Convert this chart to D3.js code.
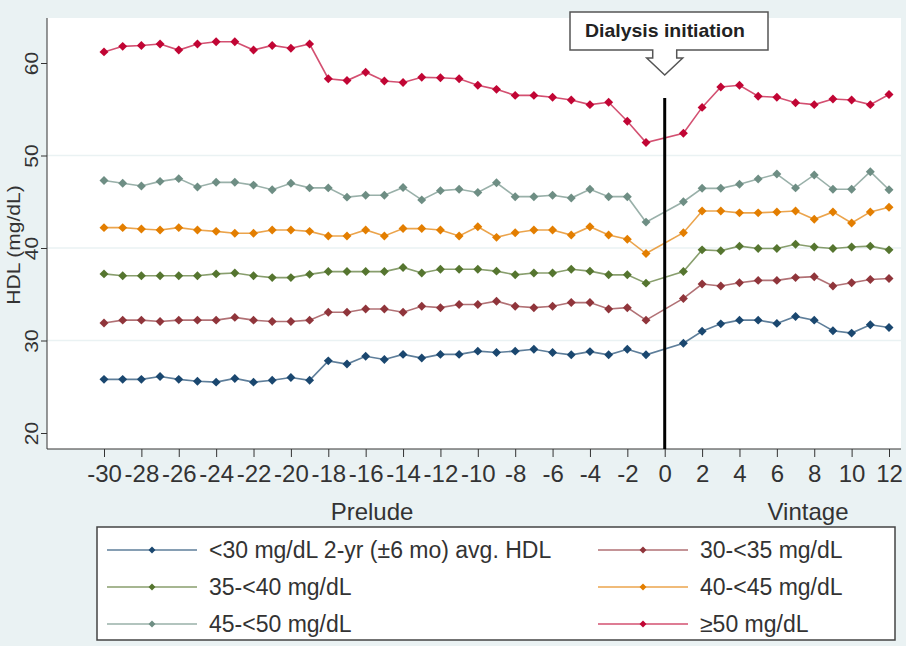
<!DOCTYPE html>
<html>
<head>
<meta charset="utf-8">
<script src="https://cdn.jsdelivr.net/npm/d3@7"></script>
<style>
  body { margin: 0; background: #eaf2f3; }
  svg { display: block; font-family: "Liberation Sans", Arial, sans-serif; }
</style>
</head>
<body>
<svg id="chart" width="906" height="646"></svg>
<script>
'use strict';
// months relative to dialysis start (no point at month 0)
var months = [-30,-29,-28,-27,-26,-25,-24,-23,-22,-21,-20,-19,-18,-17,-16,-15,-14,-13,-12,-11,
              -10,-9,-8,-7,-6,-5,-4,-3,-2,-1,1,2,3,4,5,6,7,8,9,10,11,12];
var xTicks = [-30,-28,-26,-24,-22,-20,-18,-16,-14,-12,-10,-8,-6,-4,-2,0,2,4,6,8,10,12];
var yTicks = [20, 30, 40, 50, 60];

var hdlLt30 = [25.8,25.8,25.8,26.1,25.8,25.6,25.5,25.9,25.5,25.7,26.0,25.7,
               27.8,27.45,28.3,27.95,28.5,28.1,28.5,28.5,28.85,28.7,28.85,29.05,28.7,28.45,28.8,28.45,29.05,28.45,
               29.7,31.0,31.8,32.2,32.2,31.85,32.6,32.2,31.05,30.8,31.7,31.4];
var hdl30to35 = [31.9,32.2,32.2,32.05,32.2,32.2,32.2,32.5,32.2,32.05,32.05,32.2,
                 33.05,33.05,33.4,33.4,33.05,33.7,33.55,33.9,33.9,34.25,33.7,33.55,33.7,34.1,34.1,33.4,33.55,32.2,
                 34.55,36.1,35.9,36.25,36.5,36.5,36.8,36.9,35.9,36.25,36.6,36.7];
var hdl35to40 = [37.2,37.0,37.0,37.0,37.0,37.0,37.2,37.3,37.0,36.8,36.8,37.15,
                 37.45,37.45,37.45,37.45,37.9,37.3,37.7,37.7,37.7,37.5,37.1,37.3,37.3,37.7,37.5,37.1,37.1,36.2,
                 37.45,39.8,39.7,40.2,39.95,39.95,40.4,40.1,39.95,40.1,40.2,39.8];
var hdl40to45 = [42.2,42.2,42.05,41.95,42.2,41.95,41.8,41.6,41.6,41.95,41.95,41.8,
                 41.3,41.3,41.95,41.3,42.1,42.1,41.95,41.3,42.3,41.15,41.65,41.95,41.95,41.4,42.3,41.4,40.95,39.4,
                 41.65,44.0,44.0,43.8,43.8,43.9,44.0,43.1,43.9,42.7,43.9,44.4];
var hdl45to50 = [47.3,47.0,46.7,47.2,47.5,46.6,47.1,47.1,46.8,46.3,47.0,46.5,
                 46.5,45.5,45.7,45.7,46.55,45.2,46.2,46.35,46.0,47.05,45.55,45.55,45.7,45.4,46.35,45.55,45.55,42.8,
                 45.0,46.45,46.45,46.9,47.45,48.0,46.5,47.9,46.35,46.35,48.25,46.3];
var hdlGe50 = [61.2,61.8,61.9,62.05,61.4,62.05,62.3,62.3,61.4,61.9,61.6,62.05,
               58.3,58.1,59.0,58.05,57.9,58.45,58.4,58.3,57.6,57.15,56.5,56.5,56.3,56.0,55.5,55.75,53.7,51.4,
               52.4,55.2,57.4,57.6,56.4,56.3,55.7,55.5,56.1,56.0,55.5,56.6];

var seriesNames = ['<30 mg/dL 2-yr (\u00b16 mo) avg. HDL', '30-<35 mg/dL', '35-<40 mg/dL',
                   '40-<45 mg/dL', '45-<50 mg/dL', '\u226550 mg/dL'];
var seriesValues = [hdlLt30, hdl30to35, hdl35to40, hdl40to45, hdl45to50, hdlGe50];
var seriesColors = ['#1a476f', '#90353b', '#55752f', '#e37e00', '#6e8e84', '#c10534'];

var svg = d3.select('#chart');
var plotLeft = 47, plotRight = 901, plotTop = 18, plotBottom = 449;

var x = d3.scaleLinear().domain([-30, 12]).range([104, 889]);
var y = d3.scaleLinear().domain([20, 60]).range([433, 63]);

// plot region
svg.append('rect')
    .attr('x', plotLeft).attr('y', plotTop)
    .attr('width', plotRight - plotLeft).attr('height', plotBottom - plotTop)
    .attr('fill', '#ffffff');

// grid lines
svg.selectAll('.grid')
    .data(yTicks.slice(1, 4))
    .enter()
    .append('line')
    .attr('class', 'grid')
    .attr('x1', plotLeft).attr('x2', plotRight)
    .attr('y1', function(d){return y(d);}).attr('y2', function(d){return y(d);})
    .attr('stroke', '#eaf2f3')
    .attr('stroke-width', 1.5);

// axes (plain hyphen for negatives, like the original)
var plain = function(d){return String(d);};

var yAxis = svg.append('g')
    .attr('transform', 'translate(' + plotLeft + ',0)')
    .call(d3.axisLeft(y).tickValues(yTicks).tickSize(6).tickFormat(plain));
yAxis.select('.domain').attr('d', 'M0,' + plotTop + 'V' + plotBottom).attr('stroke', '#333');
yAxis.selectAll('.tick line').attr('stroke', '#333');
yAxis.selectAll('.tick text')
    .attr('font-size', 21)
    .attr('fill', '#333')
    .attr('text-anchor', 'middle')
    .attr('transform', 'translate(-15,0) scale(0.85,1) rotate(-90)')
    .attr('x', 0).attr('dy', '0.35em');

var xAxis = svg.append('g')
    .attr('transform', 'translate(0,' + plotBottom + ')')
    .call(d3.axisBottom(x).tickValues(xTicks).tickSize(8).tickPadding(8).tickFormat(plain));
xAxis.select('.domain').attr('d', 'M' + plotLeft + ',0H' + plotRight).attr('stroke', '#333');
xAxis.selectAll('.tick line').attr('stroke', '#333');
xAxis.selectAll('.tick text')
    .attr('font-size', 24)
    .attr('fill', '#333');

svg.append('text')
    .attr('transform', 'translate(20,245) scale(0.85,1) rotate(-90)')
    .attr('text-anchor', 'middle')
    .attr('font-size', 21)
    .attr('fill', '#333')
    .text('HDL (mg/dL)');

svg.append('text').attr('x', 372).attr('y', 520).attr('text-anchor', 'middle')
    .attr('font-size', 24).attr('fill', '#333').text('Prelude');
svg.append('text').attr('x', 808).attr('y', 520).attr('text-anchor', 'middle')
    .attr('font-size', 24).attr('fill', '#333').text('Vintage');

// series
var line = d3.line()
    .x(function(d){return x(d.m);})
    .y(function(d){return y(d.v);});
var diamond = d3.symbol(d3.symbolSquare, 40);

seriesValues.forEach(function(vals, i){
    var pts = months.map(function(m, k){return {m: m, v: vals[k]};});
    svg.append('path')
        .datum(pts)
        .attr('d', line)
        .attr('fill', 'none')
        .attr('stroke', seriesColors[i])
        .attr('stroke-opacity', 0.7)
        .attr('stroke-width', 1.6);
    svg.selectAll('.pt' + i)
        .data(pts)
        .enter()
        .append('path')
        .attr('class', 'pt' + i)
        .attr('d', diamond)
        .attr('transform', function(d){return 'translate(' + x(d.m) + ',' + y(d.v) + ') rotate(45)';})
        .attr('fill', seriesColors[i]);
});

// dialysis start line
svg.append('line')
    .attr('x1', x(0)).attr('x2', x(0))
    .attr('y1', 98).attr('y2', plotBottom)
    .attr('stroke', '#000').attr('stroke-width', 3);

// callout
var cx = x(0);
var callout = 'M570,12H768V50H' + (cx + 12) + 'V58H' + (cx + 18) + 'L' + cx + ',75L' + (cx - 18) +
              ',58H' + (cx - 12) + 'V50H570Z';
svg.append('path')
    .attr('d', callout)
    .attr('fill', '#ffffff')
    .attr('stroke', '#555')
    .attr('stroke-width', 1.5);
svg.append('text')
    .attr('x', 665).attr('y', 37)
    .attr('text-anchor', 'middle')
    .attr('font-size', 19)
    .attr('font-weight', 'bold')
    .attr('fill', '#222')
    .attr('textLength', 160)
    .attr('lengthAdjust', 'spacingAndGlyphs')
    .text('Dialysis initiation');

// legend
var legend = svg.append('g');
legend.append('rect')
    .attr('x', 97).attr('y', 527).attr('width', 798).attr('height', 113)
    .attr('fill', '#ffffff').attr('stroke', '#444').attr('stroke-width', 1.5);
var rows = [550, 587, 624], cols = [107, 598];
seriesNames.forEach(function(name, i){
    var lx = cols[i % 2], ly = rows[Math.floor(i / 2)];
    legend.append('line')
        .attr('x1', lx).attr('x2', lx + 90).attr('y1', ly).attr('y2', ly)
        .attr('stroke', seriesColors[i]).attr('stroke-opacity', 0.7).attr('stroke-width', 1.6);
    legend.append('path')
        .attr('d', d3.symbol(d3.symbolSquare, 24))
        .attr('transform', 'translate(' + (lx + 45) + ',' + ly + ') rotate(45)')
        .attr('fill', seriesColors[i]);
    legend.append('text')
        .attr('x', lx + 102).attr('y', ly + 8)
        .attr('font-size', 23).attr('fill', '#333')
        .text(name);
});
</script>
</body>
</html>
